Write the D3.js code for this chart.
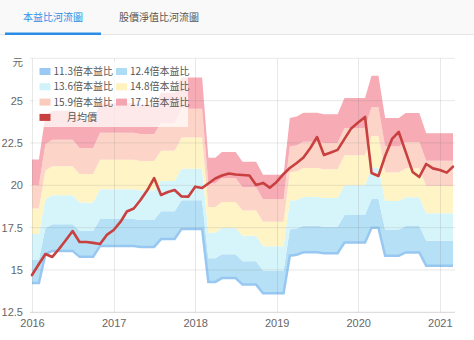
<!DOCTYPE html>
<html>
<head>
<meta charset="utf-8">
<script src="https://cdn.jsdelivr.net/npm/d3@7"></script>
<style>
  html, body { margin: 0; padding: 0; background: #fff; }
  svg { display: block; }
  text { font-family: "Liberation Sans", "Noto Sans CJK TC", sans-serif; }
  .cjk { font-family: "Noto Sans CJK TC", "Liberation Sans", sans-serif; }
</style>
</head>
<body>
<svg id="chart" width="474" height="340"></svg>
<script>
// Month labels (Jan 2016 – Mar 2021)
const months = [
  "2016-01","2016-02","2016-03","2016-04","2016-05","2016-06","2016-07","2016-08","2016-09","2016-10","2016-11","2016-12",
  "2017-01","2017-02","2017-03","2017-04","2017-05","2017-06","2017-07","2017-08","2017-09","2017-10","2017-11","2017-12",
  "2018-01","2018-02","2018-03","2018-04","2018-05","2018-06","2018-07","2018-08","2018-09","2018-10","2018-11","2018-12",
  "2019-01","2019-02","2019-03","2019-04","2019-05","2019-06","2019-07","2019-08","2019-09","2019-10","2019-11","2019-12",
  "2020-01","2020-02","2020-03","2020-04","2020-05","2020-06","2020-07","2020-08","2020-09","2020-10","2020-11","2020-12",
  "2021-01","2021-02","2021-03"
];

// Trailing EPS used for each month's river bands (元)
const eps = [
  1.259, 1.259, 1.410, 1.427, 1.427, 1.427, 1.427, 1.396, 1.396, 1.396, 1.453, 1.453,
  1.453, 1.453, 1.453, 1.453, 1.448, 1.448, 1.448, 1.489, 1.489, 1.489, 1.542, 1.542,
  1.542, 1.542, 1.265, 1.265, 1.285, 1.285, 1.285, 1.251, 1.251, 1.251, 1.206, 1.206,
  1.206, 1.206, 1.402, 1.407, 1.420, 1.420, 1.420, 1.415, 1.415, 1.415, 1.471, 1.471,
  1.471, 1.471, 1.548, 1.548, 1.402, 1.402, 1.402, 1.419, 1.419, 1.419, 1.349, 1.349,
  1.349, 1.349, 1.349
];

// Monthly average price (月均價)
const price = [
  14.70, 15.35, 15.94, 15.77, 16.24, 16.77, 17.30, 16.65, 16.65, 16.60, 16.53, 17.07,
  17.36, 17.85, 18.45, 18.63, 19.13, 19.72, 20.43, 19.43, 19.60, 19.72, 19.34, 19.33,
  19.92, 19.84, 20.11, 20.40, 20.58, 20.70, 20.64, 20.61, 20.58, 20.02, 20.14, 19.86,
  20.20, 20.67, 21.02, 21.32, 21.64, 22.20, 22.85, 21.79, 21.94, 22.09, 22.74, 23.36,
  23.71, 24.04, 20.73, 20.55, 21.73, 22.74, 23.15, 21.97, 20.79, 20.49, 21.26, 21.00,
  20.90, 20.75, 21.10
];

// P/E multiples of the river bands
const multiples = [11.3, 12.4, 13.6, 14.8, 15.9, 17.1];
const seriesNames = ["11.3倍本益比", "12.4倍本益比", "13.6倍本益比", "14.8倍本益比", "15.9倍本益比", "17.1倍本益比"];
const priceName = "月均價";

const yTicks = [12.5, 15, 17.5, 20, 22.5, 25, 27.5];
const yearTicks = ["2016", "2017", "2018", "2019", "2020", "2021"];
const tabLabels = ["本益比河流圖", "股價淨值比河流圖"];
const unitLabel = "元";

// Styling
const bandColors   = ["#98c8f1", "#b5e0f5", "#d6f5fa", "#fff4c6", "#fdd5c8", "#f6abb5"];
const legendColors = ["#9cc9f3", "#aedcf4", "#cff3f8", "#fff2bd", "#fbcbbd", "#f5a5b0"];
const priceColor = "#c8403f";

const svg = d3.select("#chart");
const W = 474, H = 340;
const plot = { left: 30, right: 455, top: 58.3, bottom: 312.3 };

const parse = d3.timeParse("%Y-%m");
const dates = months.map(parse);

const x = d3.scaleTime()
  .domain([dates[0], dates[dates.length - 1]])
  .range([32, 453]);
const y = d3.scaleLinear()
  .domain([12.5, 27.5])
  .range([plot.bottom, plot.top]);

// ---- Tab bar ----
svg.append("rect").attr("x", 0).attr("y", 0).attr("width", W).attr("height", 35).attr("fill", "#f9f9f9");
svg.append("rect").attr("x", 0).attr("y", 34).attr("width", W).attr("height", 1).attr("fill", "#e6e6e6");
svg.append("rect").attr("x", 5).attr("y", 32.5).attr("width", 96).attr("height", 2.5).attr("fill", "#2b8de6");
svg.append("text").attr("class", "cjk")
  .attr("x", 53).attr("y", 20.5).attr("text-anchor", "middle")
  .attr("font-size", 10).attr("fill", "#2b8de6").text(tabLabels[0]);
svg.append("text").attr("class", "cjk")
  .attr("x", 159).attr("y", 20.5).attr("text-anchor", "middle")
  .attr("font-size", 10).attr("fill", "#555").text(tabLabels[1]);

// ---- River bands ----
const idx = d3.range(months.length);
const bands = svg.append("g");
for (let k = 1; k < multiples.length; k++) {
  const area = d3.area()
    .x(i => x(dates[i]))
    .y0(i => y(multiples[k - 1] * eps[i]))
    .y1(i => y(multiples[k] * eps[i]));
  bands.append("path").datum(idx).attr("d", area).attr("fill", bandColors[k]);
}
// lowest band edge
bands.append("path").datum(idx)
  .attr("d", d3.line().x(i => x(dates[i])).y(i => y(multiples[0] * eps[i])))
  .attr("fill", "none").attr("stroke", bandColors[0]).attr("stroke-width", 2.5);

// ---- Grid ----
const grid = svg.append("g");
yTicks.forEach(t => {
  grid.append("line")
    .attr("x1", plot.left).attr("x2", plot.right)
    .attr("y1", y(t)).attr("y2", y(t))
    .attr("stroke", t === 12.5 ? "rgba(120,120,120,0.3)" : "rgba(120,120,120,0.17)")
    .attr("stroke-width", 1);
});
yearTicks.forEach(yr => {
  const xx = Math.round(x(parse(yr + "-01"))) + 0.5;
  grid.append("line")
    .attr("x1", xx).attr("x2", xx)
    .attr("y1", plot.top).attr("y2", plot.bottom)
    .attr("stroke", "rgba(120,120,120,0.17)").attr("stroke-width", 1);
});

// ---- Axes labels ----
const yAxis = d3.axisLeft(y).tickValues(yTicks.slice(0, -1)).tickSize(0).tickPadding(0)
  .tickFormat(d => String(d));
const gy = svg.append("g").attr("transform", "translate(23,0)").call(yAxis);
gy.select(".domain").remove();
gy.selectAll("text").attr("font-size", 11).attr("fill", "#666")
  .attr("font-family", "'Liberation Sans', sans-serif");

svg.append("text").attr("class", "cjk")
  .attr("x", 23).attr("y", y(27.5) + 7.5).attr("text-anchor", "end")
  .attr("font-size", 10.5).attr("fill", "#666").text(unitLabel);

const xAxis = d3.axisBottom(x)
  .tickValues(yearTicks.map(yr => parse(yr + "-01")))
  .tickSize(0).tickPadding(0)
  .tickFormat(d3.timeFormat("%Y"));
const gx = svg.append("g").attr("transform", `translate(0,${plot.bottom + 7})`).call(xAxis);
gx.select(".domain").remove();
gx.selectAll("text").attr("font-size", 11).attr("fill", "#666")
  .attr("font-family", "'Liberation Sans', sans-serif");

// ---- Price line ----
svg.append("path").datum(idx)
  .attr("d", d3.line().x(i => x(dates[i])).y(i => y(price[i])))
  .attr("fill", "none").attr("stroke", priceColor)
  .attr("stroke-width", 2.6).attr("stroke-linejoin", "round").attr("stroke-linecap", "round");

// ---- Legend ----
const lg = svg.append("g");
lg.append("rect").attr("x", 33).attr("y", 62).attr("width", 155).attr("height", 65)
  .attr("fill", "#fff").attr("opacity", 0.72);
const rowY = [71.5, 86.8, 102.1, 117.4];
const colX = [39.5, 116];
const items = seriesNames.map((n, i) => ({ name: n, color: legendColors[i], col: i % 2, row: Math.floor(i / 2) }));
items.forEach(it => {
  lg.append("rect").attr("x", colX[it.col]).attr("y", rowY[it.row] - 3.5)
    .attr("width", 11).attr("height", 7).attr("fill", it.color);
  lg.append("text").attr("class", "cjk")
    .attr("x", colX[it.col] + 14).attr("y", rowY[it.row] + 3.6)
    .attr("font-size", 10).attr("fill", "#555").text(it.name);
});
lg.append("rect").attr("x", colX[0]).attr("y", rowY[3] - 3.5)
  .attr("width", 11).attr("height", 7).attr("fill", priceColor);
lg.append("text").attr("class", "cjk")
  .attr("x", 67).attr("y", rowY[3] + 3.6)
  .attr("font-size", 10).attr("fill", "#555").text(priceName);
</script>
</body>
</html>
